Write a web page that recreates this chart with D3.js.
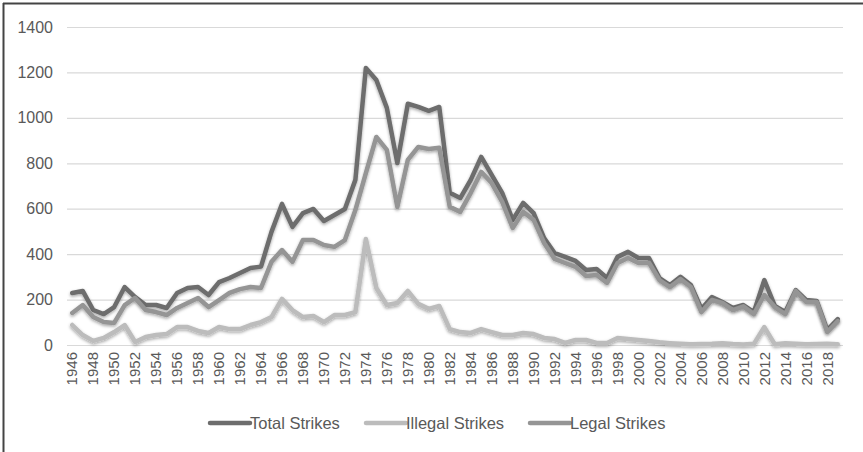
<!DOCTYPE html>
<html><head><meta charset="utf-8">
<script src="https://cdn.jsdelivr.net/npm/d3@7"></script>
<style>body{margin:0;background:#fff;}svg{display:block;font-family:"Liberation Sans",Arial,sans-serif;}</style>
</head><body>
<svg id="c" width="863" height="452"></svg>
<script>
const years = d3.range(1946, 2020);
const totalStrikes = [229,238,154,136,167,255,211,176,176,163,229,251,255,220,277,295,317,339,345,498,621,520,581,599,546,572,599,727,1220,1167,1044,801,1062,1048,1031,1048,670,647,727,828,749,670,551,626,581,471,405,388,370,330,335,295,388,410,383,383,295,264,300,264,159,211,189,163,176,145,286,172,145,242,198,194,66,114];
const illegalStrikes = [88,44,18,31,57,88,13,35,44,48,79,79,62,53,79,70,70,88,101,123,203,154,123,128,101,132,132,145,467,251,176,185,238,181,159,172,70,57,53,70,57,44,44,53,48,31,26,9,22,22,9,9,31,26,22,18,12,8,5,3,4,5,8,4,2,5,79,3,8,5,3,4,5,3];
const legalStrikes = [141,176,123,101,97,176,207,154,145,132,163,185,207,167,198,229,246,255,251,366,418,366,462,462,440,432,462,594,757,916,859,608,815,872,863,868,608,586,670,762,713,630,515,586,551,449,379,361,344,304,308,273,361,383,361,362,286,255,290,255,145,198,185,154,170,136,220,167,136,238,189,189,57,105];
const yTicks = [0,200,400,600,800,1000,1200,1400];
const seriesNames = ["Total Strikes","Illegal Strikes","Legal Strikes"];
const seriesColors = ["#6d6d6d","#bcbcbc","#959595"];

(function(){
const svg = d3.select("#c");
const mL = 67, mR = 843, mT = 27, mB = 345;
const x = d3.scaleBand().domain(years).range([mL, mR]);
const y = d3.scaleLinear().domain([0, 1400]).range([mB, mT]);

const defs = svg.append("defs");
const f = defs.append("filter").attr("id","sh").attr("x","-5%").attr("y","-5%").attr("width","110%").attr("height","120%");
f.append("feDropShadow").attr("dx",0).attr("dy",1.5).attr("stdDeviation",1.5).attr("flood-color","#000").attr("flood-opacity",0.35);

// border
svg.append("line").attr("x1",3.5).attr("x2",3.5).attr("y1",3).attr("y2",452).attr("stroke","#444").attr("stroke-width",2);
svg.append("line").attr("x1",3).attr("x2",863).attr("y1",3.5).attr("y2",3.5).attr("stroke","#444").attr("stroke-width",2);

// gridlines
const yAxis = d3.axisLeft(y).tickValues(yTicks).tickFormat(d3.format("d")).tickSize(-(mR-mL)).tickPadding(14);
const gy = svg.append("g").attr("transform",`translate(${mL},0)`).call(yAxis);
gy.select(".domain").remove();
gy.selectAll(".tick line").attr("stroke","#d9d9d9").attr("stroke-width",1.2);
gy.selectAll(".tick text").attr("fill","#595959").style("font-size","16px");

// x axis
const xAxis = d3.axisBottom(x).tickValues(years.filter(d => (d-1946)%2===0)).tickSize(0).tickPadding(0);
const gx = svg.append("g").attr("transform",`translate(0,${mB})`).call(xAxis);
gx.select(".domain").remove();
gx.selectAll(".tick text")
  .attr("transform","rotate(-90)")
  .attr("text-anchor","end").attr("x",-7).attr("y",0).attr("dy","0.35em")
  .attr("fill","#595959").style("font-size","15px");

// lines
const data = [totalStrikes, illegalStrikes, legalStrikes];
const line = d3.line().x((d,i)=>x(years[i])+x.bandwidth()/2).y(d=>y(d));
data.forEach((s,k)=>{
  svg.append("path").datum(s).attr("d",line).attr("fill","none")
    .attr("stroke",seriesColors[k]).attr("stroke-width",4.5)
    .attr("stroke-linejoin","round").attr("stroke-linecap","round")
    .attr("filter","url(#sh)");
});

// legend
const legX = [210, 366, 530];
const lg = svg.append("g");
seriesNames.forEach((n,k)=>{
  lg.append("line").attr("x1",legX[k]).attr("x2",legX[k]+40).attr("y1",423).attr("y2",423)
    .attr("stroke",seriesColors[k]).attr("stroke-width",4.5).attr("stroke-linecap","round");
  lg.append("text").attr("x",legX[k]+40).attr("y",423).attr("dy","0.35em")
    .attr("fill","#595959").style("font-size","16.5px").text(n);
});
})();
</script>
</body></html>
